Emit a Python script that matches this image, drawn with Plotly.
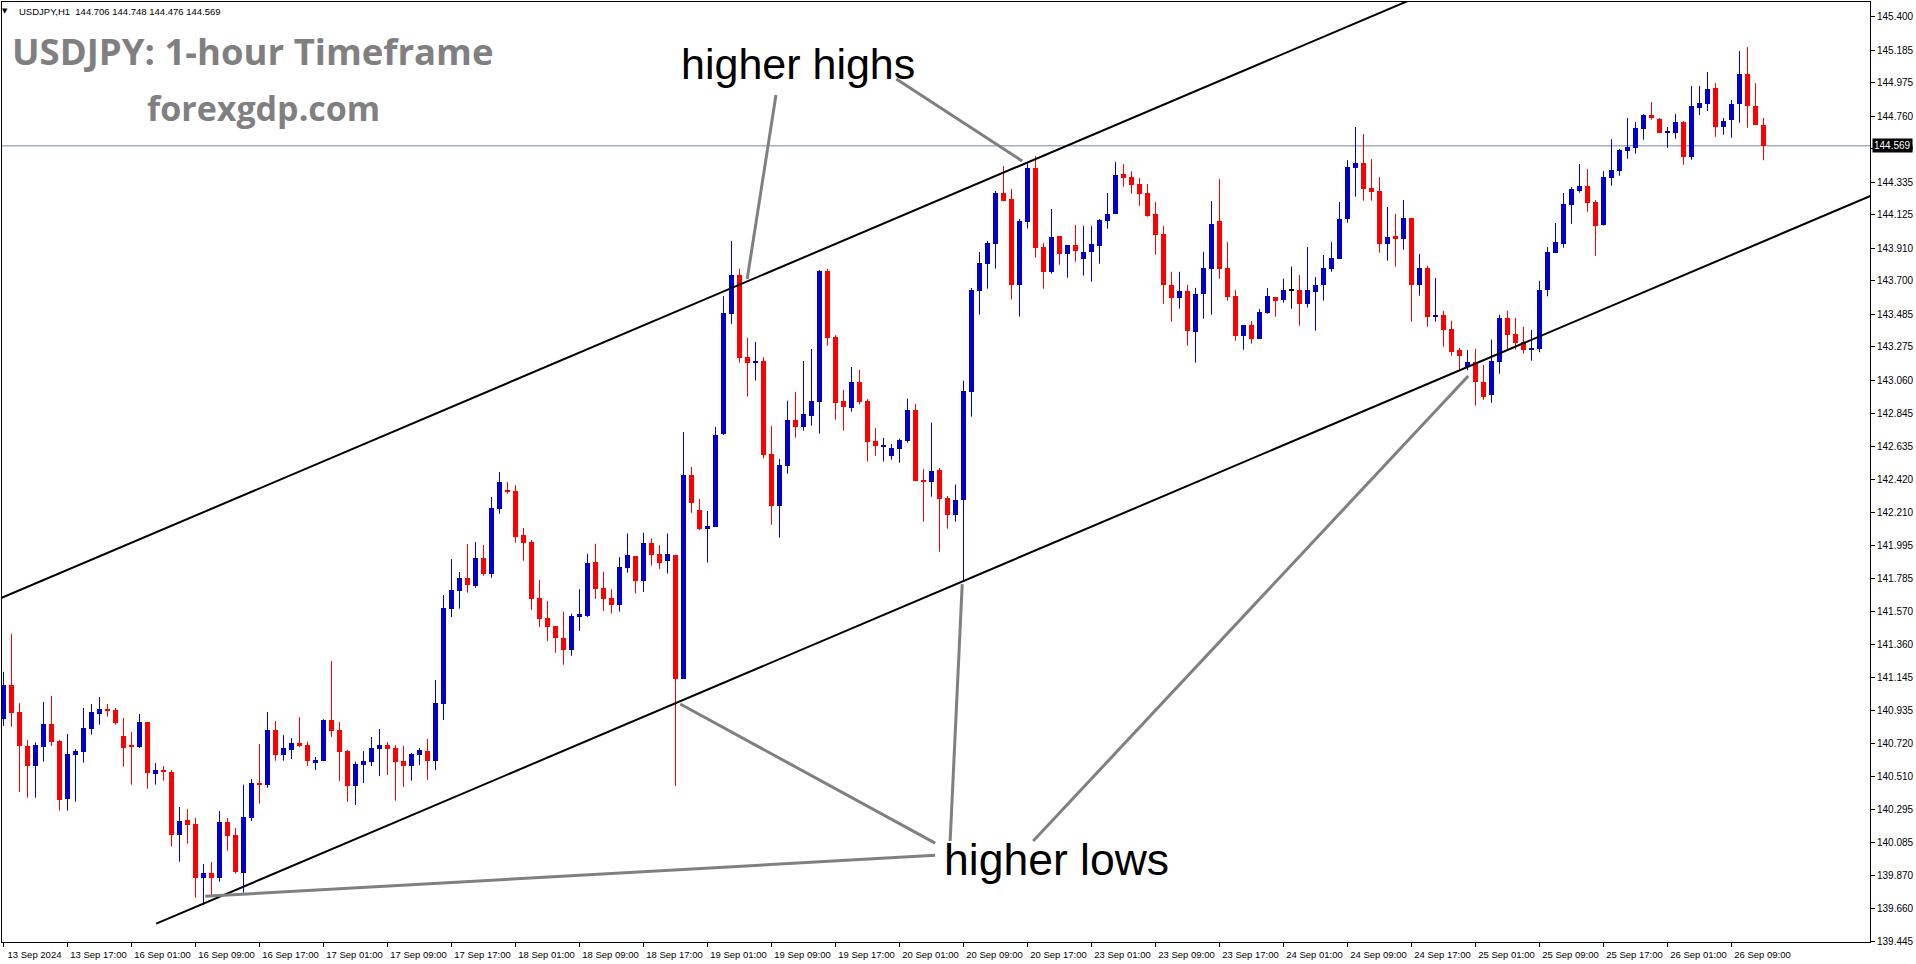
import plotly.graph_objects as go

# ---------------- data (USDJPY H1) ----------------
open_ = [140.877,141.098,140.924,140.705,140.578,140.701,140.846,140.737,140.366,140.649,
         140.668,140.816,140.913,140.943,140.937,140.769,140.711,140.698,140.859,140.527,
         140.550,140.537,140.134,140.228,140.203,139.857,139.887,139.857,140.216,140.132,
         139.889,140.243,140.467,140.454,140.808,140.649,140.681,140.724,140.711,140.597,
         140.610,140.872,140.808,140.675,140.447,140.582,140.604,140.685,140.711,140.692,
         140.608,140.578,140.649,140.673,140.610,140.977,141.589,141.705,141.786,141.737,
         141.915,141.814,142.233,142.353,142.347,142.066,142.021,141.659,141.530,141.478,
         141.401,141.324,141.537,141.542,141.890,141.722,141.659,141.614,141.853,141.928,
         141.769,142.014,141.942,141.893,141.935,141.137,142.450,142.225,142.103,142.115,
         142.714,143.489,143.737,143.210,143.175,143.185,142.585,142.252,142.510,142.804,
         142.761,142.832,142.922,143.763,143.338,142.926,142.883,143.048,142.926,142.669,
         142.632,142.574,142.619,142.671,142.868,142.418,142.407,142.482,142.302,142.194,
         142.291,142.986,143.636,143.810,143.939,144.265,144.227,143.675,144.080,144.428,
         143.917,143.758,143.988,143.874,143.930,143.842,143.887,143.926,144.087,144.132,
         144.387,144.368,144.323,144.265,144.130,144.001,143.675,143.591,143.634,143.372,
         143.615,143.778,144.085,143.782,143.602,143.346,143.415,143.327,143.494,143.595,
         143.578,143.640,143.640,143.552,143.630,143.675,143.778,143.842,144.100,144.428,
         144.458,144.297,144.278,143.939,143.988,143.971,144.104,143.675,143.782,143.469,
         143.479,143.391,143.254,143.147,143.177,143.050,142.967,143.179,143.462,143.359,
         143.308,143.256,143.263,143.640,143.881,143.939,144.190,144.280,144.310,144.207,
         144.059,144.364,144.409,144.537,144.557,144.679,144.767,144.741,144.653,144.653,
         144.722,144.499,144.814,144.840,144.941,144.692,144.737,144.840,145.031,144.827,
         144.706]
high = [141.183,141.426,140.982,140.743,140.728,140.988,141.027,140.743,140.782,140.686,
        140.950,140.975,141.020,140.975,140.950,140.885,140.795,140.911,140.859,140.595,
        140.576,140.550,140.312,140.299,140.241,139.945,139.958,140.286,140.241,140.177,
        140.456,140.492,140.718,140.924,140.866,140.775,140.756,140.891,140.733,140.634,
        140.878,141.252,140.859,140.679,140.604,140.672,140.763,140.814,140.730,140.711,
        140.705,140.660,140.692,140.750,141.130,141.677,141.908,141.825,142.005,142.018,
        141.999,142.308,142.469,142.404,142.384,142.108,142.031,141.773,141.638,141.478,
        141.570,141.556,141.715,141.942,142.007,141.827,141.715,141.921,142.073,141.928,
        142.078,142.042,141.998,142.073,141.935,142.726,142.501,142.295,142.218,142.759,
        143.601,143.957,143.777,143.332,143.306,143.208,142.765,142.553,142.928,142.984,
        143.184,143.261,143.769,143.778,143.351,142.997,143.145,143.126,142.939,142.752,
        142.688,142.649,142.684,142.941,142.907,142.488,142.787,142.495,142.315,142.388,
        143.057,143.654,143.885,143.956,144.278,144.439,144.291,144.098,144.456,144.503,
        143.943,144.162,143.988,143.930,144.059,144.052,144.052,144.097,144.265,144.464,
        144.452,144.406,144.361,144.323,144.207,144.052,143.758,143.758,143.675,143.655,
        143.887,144.213,144.355,143.949,143.640,143.415,143.441,143.518,143.653,143.595,
        143.713,143.791,143.737,143.917,143.724,143.866,143.949,144.207,144.477,144.690,
        144.645,144.484,144.368,144.175,144.130,144.220,144.104,143.872,143.797,143.718,
        143.507,143.443,143.269,143.254,143.263,143.158,143.321,143.482,143.507,143.462,
        143.404,143.383,143.700,143.917,144.072,144.265,144.303,144.452,144.419,144.220,
        144.406,144.612,144.548,144.748,144.722,144.773,144.851,144.748,144.690,144.773,
        144.728,144.954,144.954,145.044,144.973,144.748,144.864,145.179,145.205,144.973,
        144.748]
low = [140.834,140.829,140.409,140.372,140.372,140.604,140.705,140.289,140.289,140.346,
       140.598,140.778,140.842,140.894,140.842,140.572,140.456,140.692,140.430,140.456,
       140.482,140.057,139.960,140.076,139.728,139.681,139.741,139.831,140.031,139.883,
       139.761,140.222,140.334,140.436,140.610,140.610,140.621,140.698,140.576,140.550,
       140.610,140.763,140.479,140.346,140.325,140.466,140.576,140.511,140.518,140.353,
       140.441,140.481,140.582,140.486,140.550,140.872,141.535,141.589,141.692,141.724,
       141.801,141.788,142.200,142.329,142.014,141.897,141.581,141.471,141.380,141.305,
       141.228,141.286,141.446,141.535,141.652,141.574,141.558,141.570,141.820,141.687,
       141.696,141.867,141.844,141.815,140.446,141.137,142.206,142.094,141.886,142.115,
       142.707,143.423,143.173,142.955,143.058,142.557,142.130,142.046,142.458,142.690,
       142.735,142.767,142.716,143.282,142.806,142.735,142.857,142.903,142.536,142.574,
       142.536,142.548,142.529,142.658,142.413,142.149,142.310,141.956,142.104,142.149,
       141.763,142.825,143.482,143.649,143.778,144.216,143.579,143.469,144.037,143.849,
       143.649,143.746,143.803,143.720,143.823,143.733,143.694,143.810,144.035,144.132,
       144.306,144.261,144.183,144.112,143.868,143.552,143.437,143.520,143.282,143.173,
       143.456,143.482,143.713,143.572,143.314,143.256,143.295,143.327,143.488,143.469,
       143.559,143.520,143.411,143.527,143.379,143.572,143.758,143.842,144.074,144.241,
       144.216,144.216,143.881,143.829,143.791,143.900,143.437,143.604,143.404,143.437,
       143.276,143.218,143.121,143.125,142.896,142.934,142.915,143.102,143.256,143.256,
       143.231,143.185,143.240,143.600,143.881,143.913,144.067,144.267,144.145,143.861,
       144.055,144.312,144.376,144.486,144.518,144.608,144.737,144.653,144.557,144.615,
       144.447,144.479,144.767,144.793,144.627,144.640,144.621,144.718,144.685,144.705,
       144.476]
close = [141.098,140.919,140.705,140.578,140.709,140.846,140.733,140.359,140.653,140.673,
         140.821,140.924,140.943,140.932,140.855,140.694,140.701,140.859,140.533,140.550,
         140.540,140.134,140.222,140.198,139.857,139.887,139.857,140.216,140.128,139.896,
         140.248,140.467,140.456,140.808,140.649,140.692,140.724,140.707,140.610,140.614,
         140.872,140.801,140.668,140.447,140.589,140.608,140.692,140.711,140.685,140.604,
         140.578,140.653,140.679,140.610,140.981,141.593,141.709,141.786,141.743,141.915,
         141.814,142.237,142.404,142.342,142.049,142.014,141.652,141.523,141.471,141.401,
         141.324,141.542,141.558,141.883,141.717,141.652,141.614,141.858,141.935,141.769,
         142.014,141.937,141.886,141.942,141.137,142.450,142.272,142.101,142.122,142.707,
         143.493,143.737,143.206,143.173,143.185,142.581,142.252,142.514,142.804,142.761,
         142.842,142.926,143.763,143.334,142.915,142.890,143.048,142.922,142.664,142.639,
         142.639,142.624,142.675,142.868,142.413,142.407,142.475,142.297,142.194,142.289,
         142.991,143.641,143.815,143.943,144.265,144.216,143.675,144.085,144.428,143.913,
         143.758,143.982,143.874,143.930,143.894,143.887,143.937,144.091,144.130,144.381,
         144.364,144.318,144.261,144.119,143.997,143.675,143.591,143.634,143.379,143.615,
         143.782,144.065,143.778,143.598,143.346,143.415,143.327,143.499,143.602,143.572,
         143.640,143.640,143.552,143.640,143.673,143.782,143.846,144.098,144.432,144.458,
         144.293,144.273,143.939,143.982,143.971,144.104,143.675,143.782,143.469,143.479,
         143.385,143.243,143.218,143.177,143.050,142.954,143.183,143.462,143.353,143.301,
         143.256,143.263,143.640,143.885,143.949,144.194,144.291,144.310,144.203,144.055,
         144.368,144.413,144.542,144.561,144.683,144.767,144.750,144.653,144.660,144.722,
         144.499,144.825,144.844,144.934,144.692,144.728,144.838,145.031,144.827,144.705,
         144.569]

time_labels = ["13 Sep 2024", "13 Sep 17:00", "16 Sep 01:00", "16 Sep 09:00", "16 Sep 17:00",
               "17 Sep 01:00", "17 Sep 09:00", "17 Sep 17:00", "18 Sep 01:00", "18 Sep 09:00",
               "18 Sep 17:00", "19 Sep 01:00", "19 Sep 09:00", "19 Sep 17:00", "20 Sep 01:00",
               "20 Sep 09:00", "20 Sep 17:00", "23 Sep 01:00", "23 Sep 09:00", "23 Sep 17:00",
               "24 Sep 01:00", "24 Sep 09:00", "24 Sep 17:00", "25 Sep 01:00", "25 Sep 09:00",
               "25 Sep 17:00", "26 Sep 01:00", "26 Sep 09:00"]
label_every = 8  # one time label every 8 hourly bars

price_ticks = [145.400, 145.185, 144.975, 144.760, 144.550, 144.335, 144.125, 143.910,
               143.700, 143.485, 143.275, 143.060, 142.845, 142.635, 142.420, 142.210,
               141.995, 141.785, 141.570, 141.360, 141.145, 140.935, 140.720, 140.510,
               140.295, 140.085, 139.870, 139.660, 139.445]

symbol = "USDJPY,H1"
last_bar = (144.706, 144.748, 144.476, 144.569)
last_price = 144.569

# channel lines: (bar index, price)
upper_channel = ([-1.0, 180.0], [141.642, 145.599])
lower_channel = ([19.09, 234.0], [139.561, 144.260])

# callout lines (bar index, price) pairs
hh_callouts = [([96.56, 92.96], [144.896, 143.711]),
               ([111.6, 127.34], [144.999, 144.471])]
hl_callouts = [([84.59, 116.46], [140.975, 140.080]),
               ([119.84, 118.33], [141.747, 140.093]),
               ([183.09, 128.71], [143.087, 140.093]),
               ([25.21, 116.46], [139.737, 140.001])]
hh_text_pos = (99.3, 145.095)
hl_text_pos = (131.6, 139.977)

# ---------------- styling / layout constants ----------------
W, H = 1916, 964
ML, MR, MT, MB = 2, 46, 2, 22
PL, PR, PT, PB = ML, W - MR, MT, H - MB
BAR_PX = 8.0
FIRST_CENTER_PX = 3.5
BULL, BEAR, DOJI = "#0000CC", "#FF0000", "#000000"

xr = [(PL - FIRST_CENTER_PX) / BAR_PX, (PR - FIRST_CENTER_PX) / BAR_PX]
yr = [139.443, 145.495]


def paper_x(px):
    return (px - PL) / (PR - PL)


def paper_y(py):
    return (PB - py) / (PB - PT)


n = len(open_)
idx = list(range(n))

cols, bases, heights = [], [], []
wick = {BULL: ([], []), BEAR: ([], []), DOJI: ([], [])}
for i in idx:
    o, h, l, c = open_[i], high[i], low[i], close[i]
    col = BULL if c > o else (BEAR if c < o else DOJI)
    cols.append(col)
    bases.append(min(o, c))
    heights.append(max(abs(c - o), 0.0065))
    wx, wy = wick[col]
    wx += [i, i, None]
    wy += [l, h, None]

fig = go.Figure()

# current price line
fig.add_shape(type="line", xref="paper", yref="y", x0=0, x1=1, y0=last_price, y1=last_price,
              line=dict(color="#778899", width=1), layer="below")

for col, (wx, wy) in wick.items():
    fig.add_trace(go.Scatter(x=wx, y=wy, mode="lines", line=dict(color=col, width=1),
                             hoverinfo="skip", showlegend=False))

fig.add_trace(go.Bar(x=idx, y=heights, base=bases, width=5 / BAR_PX,
                     marker=dict(color=cols, line=dict(width=0)),
                     hoverinfo="skip", showlegend=False))

for (lx, ly) in (upper_channel, lower_channel):
    fig.add_trace(go.Scatter(x=lx, y=ly, mode="lines", line=dict(color="black", width=2),
                             hoverinfo="skip", showlegend=False))

for (lx, ly) in hh_callouts + hl_callouts:
    fig.add_trace(go.Scatter(x=lx, y=ly, mode="lines", line=dict(color="#808080", width=3),
                             hoverinfo="skip", showlegend=False))

annotations = [
    dict(x=hh_text_pos[0], y=hh_text_pos[1], xref="x", yref="y", text="higher highs",
         xanchor="center", yanchor="middle",
         showarrow=False, font=dict(family="Liberation Sans, Arial", size=43, color="black")),
    dict(x=hl_text_pos[0], y=hl_text_pos[1], xref="x", yref="y", text="higher lows",
         xanchor="center", yanchor="middle",
         showarrow=False, font=dict(family="Liberation Sans, Arial", size=44.5, color="black")),
    dict(x=paper_x(253), y=paper_y(51), xref="paper", yref="paper",
         xanchor="center", yanchor="middle",
         text="<b>USDJPY: 1-hour Timeframe</b>", showarrow=False,
         font=dict(family="Open Sans", size=36.5, color="#808080")),
    dict(x=paper_x(263), y=paper_y(108), xref="paper", yref="paper",
         xanchor="center", yanchor="middle",
         text="<b>forexgdp.com</b>", showarrow=False,
         font=dict(family="Open Sans", size=34, color="#808080")),
    dict(x=paper_x(5), y=paper_y(11), xref="paper", yref="paper", text="▼",
         xanchor="center", yanchor="middle",
         showarrow=False, font=dict(family="DejaVu Sans", size=7, color="black")),
    dict(x=paper_x(17), y=paper_y(11), xref="paper", yref="paper", xanchor="left",
         yanchor="middle",
         text=symbol + "\u00a0\u00a0" + " ".join(f"{v:.3f}" for v in last_bar),
         showarrow=False, font=dict(family="Liberation Sans, Arial", size=9.5, color="black")),
    dict(x=1, y=last_price, xref="paper", yref="y", xanchor="left", yanchor="middle", xshift=2,
         text=f"{last_price:.3f}", showarrow=False, bgcolor="black", borderpad=1,
         font=dict(family="Liberation Sans, Arial", size=10, color="white")),
]

fig.update_layout(
    width=W, height=H, autosize=False,
    margin=dict(l=ML, r=MR, t=MT, b=MB, pad=0),
    paper_bgcolor="white", plot_bgcolor="white",
    showlegend=False, bargap=0, barmode="overlay",
    annotations=annotations,
    xaxis=dict(range=xr, showgrid=False, zeroline=False, showline=True, linecolor="black",
               linewidth=1, mirror=True, ticks="outside", ticklen=4, tickcolor="black",
               tickvals=[k * label_every for k in range(len(time_labels))],
               ticktext=time_labels, ticklabelshift=31,
               tickfont=dict(family="Liberation Sans, Arial", size=9.5, color="black")),
    yaxis=dict(range=yr, side="right", showgrid=False, zeroline=False, showline=True,
               linecolor="black", linewidth=1, mirror=True, ticks="outside", ticklen=4,
               tickcolor="black", tickvals=price_ticks,
               ticktext=[f"{v:.3f}" for v in price_ticks],
               tickfont=dict(family="Liberation Sans, Arial", size=10, color="black")),
)

fig.write_html("out.html", include_plotlyjs=True, config={"displayModeBar": False},
               post_script="document.body.style.margin='0';document.body.style.overflow='hidden';")
